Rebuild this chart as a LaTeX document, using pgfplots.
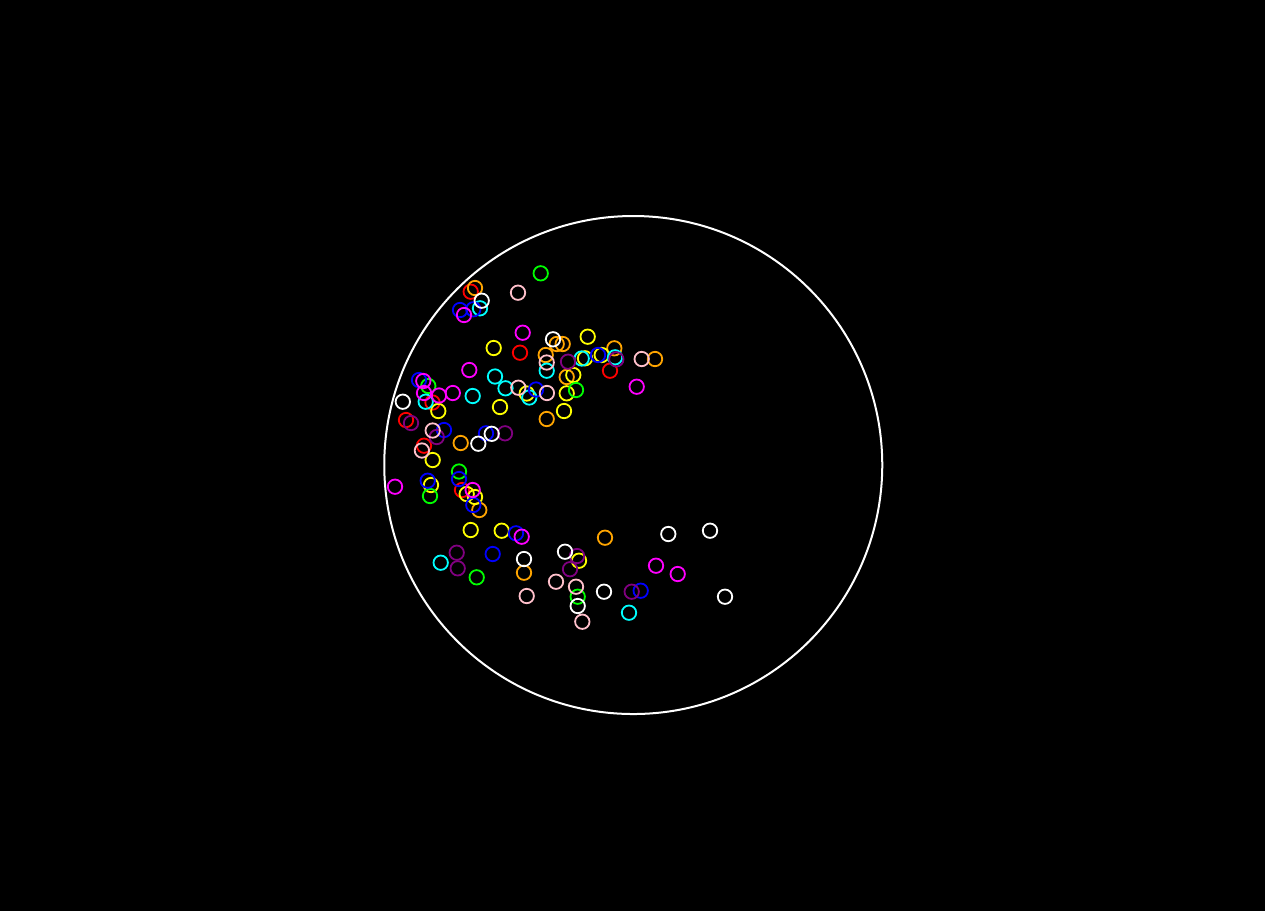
\documentclass[border=0pt]{standalone}
\usepackage{pgfplots}
\pgfplotsset{compat=1.18}
\definecolor{cred}{RGB}{255,0,0}
\definecolor{cyellow}{RGB}{255,255,0}
\definecolor{cgreen}{RGB}{0,255,0}
\definecolor{ccyan}{RGB}{0,255,255}
\definecolor{cblue}{RGB}{0,0,255}
\definecolor{cmagenta}{RGB}{255,0,255}
\definecolor{cpurple}{RGB}{128,0,128}
\definecolor{cpink}{RGB}{255,192,203}
\definecolor{corange}{RGB}{255,165,0}
\definecolor{cwhite}{RGB}{255,255,255}
\definecolor{cblack}{RGB}{0,0,0}
\begin{document}
\begin{tikzpicture}
\fill[cblack] (0,0) rectangle (12.65cm,9.11cm);
\begin{axis}[at={(0,0)}, anchor=south west, width=12.65cm, height=9.11cm,
  scale only axis, xmin=0, xmax=1265, ymin=0, ymax=911, y dir=reverse,
  hide axis, clip=false,
  every axis plot/.append style={only marks, mark=o, mark size=0.72mm, mark options={line width=0.18mm}}]
\draw[cwhite, line width=0.2mm] (axis cs:633.25,465) circle [radius=249];
% red
\addplot[cred] coordinates {(470.7,291.7) (520,352.7) (610,370.7) (432.5,402.5) (406,420) (424,445.7) (462,490)};
% orange
\addplot[corange] coordinates {(475,288) (556.7,344) (562.7,344) (545.7,355) (614.3,348.3) (655,359) (566.7,377) (546.7,419) (460.7,443) (479.3,510) (524,572.7) (605,537.7)};
% yellow
\addplot[cyellow] coordinates {(493.7,348) (587.7,336.7) (585,358.3) (601.7,355) (573.3,375) (566.7,393.3) (526.7,393.5) (500,407) (564,411) (438.3,411) (432.7,460) (431,485) (466.7,494) (475,497) (470.7,530) (501.7,530.7) (579,560.7)};
% green
\addplot[cgreen] coordinates {(540.7,273.3) (428.3,386) (576,390) (459,471.5) (430,496) (476.7,577.3) (577.7,596.7)};
% cyan
\addplot[ccyan] coordinates {(480,308.3) (546.7,370.7) (495,376.5) (505.5,388.3) (529.3,397.5) (581.7,358.5) (615,357.3) (425.7,401.7) (472.7,396) (440.7,562.7) (629,612.7)};
% blue
\addplot[cblue] coordinates {(460,310) (473.3,309.3) (419,380) (536,389.5) (598,355) (444,430) (486,433.3) (459,479) (427.7,480.7) (473.3,505) (516,533.3) (492.7,554) (640.7,590.7)};
% magenta
\addplot[cmagenta] coordinates {(464,315) (522.7,332.7) (469.3,370) (423.3,381) (424,393) (439,395.5) (452.8,393) (636.7,386.7) (395,486.7) (472.7,490) (521.7,536.7) (656,565.7) (677.7,574)};
% purple
\addplot[cpurple] coordinates {(568,361.7) (616.3,359.3) (505,433.3) (411,423) (436.7,437) (456.7,552.7) (457.7,568.3) (577,556) (570,569.2) (631.7,591.7)};
% pink
\addplot[cpink] coordinates {(518,292.7) (546.7,362.5) (641.7,359) (518.3,387.7) (546.9,393) (432.7,430.5) (421.9,450.5) (526.7,596) (556,581.7) (576,586.7) (582.3,621.7)};
% white
\addplot[cwhite] coordinates {(481.7,300.7) (553,339.3) (402.8,401.7) (478.3,443.7) (491.7,433.8) (524,559) (565,551.7) (577.7,606) (604,591.7) (668.3,534) (710,530.7) (725,596.7)};
\end{axis}
\end{tikzpicture}
\end{document}
